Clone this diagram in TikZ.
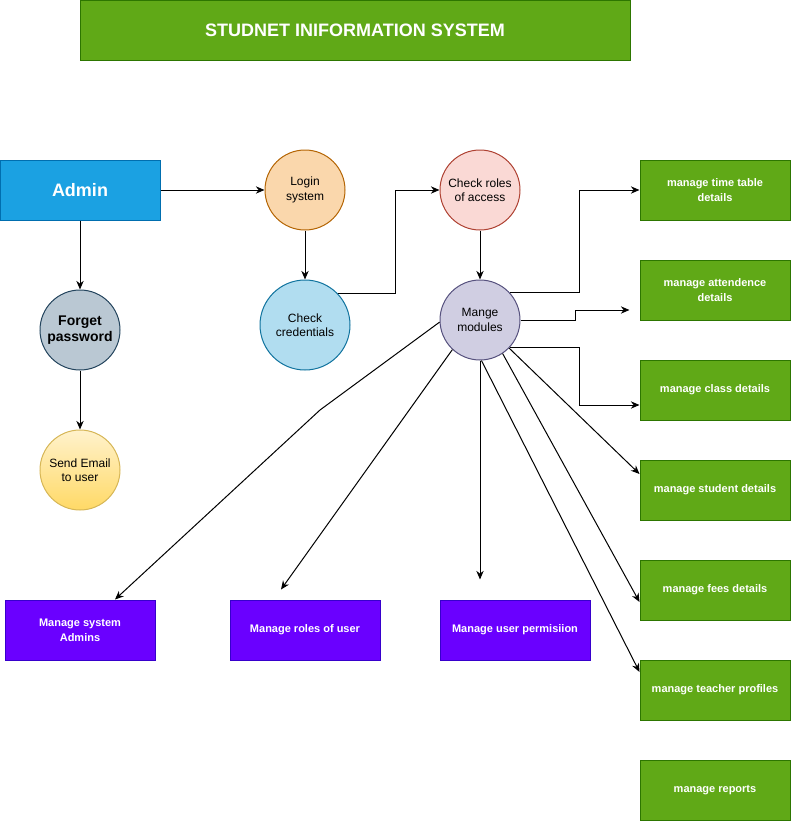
\documentclass[tikz,border=0pt]{standalone}
\usepackage{fontspec}
\setmainfont{Liberation Sans}
\usepackage{xcolor}
\usetikzlibrary{arrows.meta,positioning}

\definecolor{grnfill}{HTML}{60A917}
\definecolor{grnline}{HTML}{2D7600}
\definecolor{purfill}{HTML}{6A00FF}
\definecolor{purline}{HTML}{3700CC}
\definecolor{admfill}{HTML}{1BA1E2}
\definecolor{admline}{HTML}{006EAF}

\begin{document}
\begin{tikzpicture}[x=0.75pt, y=-0.75pt, >={Stealth[length=6.5pt,width=5.5pt]},
  conn/.style={->, line width=0.75pt},
  boxbase/.style={line width=0.75pt, minimum width=112.5pt, minimum height=45pt,
    inner sep=0pt, align=center, text=white},
  greenbox/.style={boxbase, draw=grnline, fill=grnfill,
    font=\fontsize{8.25}{11}\selectfont\bfseries},
  purplebox/.style={boxbase, draw=purline, fill=purfill,
    font=\fontsize{8.25}{11}\selectfont\bfseries},
  proc/.style={circle, line width=0.75pt, minimum size=60pt, inner sep=0pt,
    align=center, font=\fontsize{9}{10.8}\selectfont}]

\useasboundingbox (0,0) rectangle (791,821);

% Title
\node[greenbox, minimum width=412.5pt, font=\fontsize{13.5}{16}\selectfont\bfseries]
  (title) at (355,30) {STUDNET INIFORMATION SYSTEM};

% Admin side
\node[boxbase, minimum width=120pt, draw=admline, fill=admfill,
  font=\fontsize{13.5}{16}\selectfont\bfseries] (admin) at (80,190) {Admin};
\node[proc, draw={rgb,255:red,35;green,68;blue,93}, fill={rgb,255:red,186;green,200;blue,211},
  font=\fontsize{10.5}{12.5}\selectfont\bfseries] (forget) at (80,330) {Forget\\password};
\node[proc, draw={rgb,255:red,214;green,182;blue,86},
  top color={rgb,255:red,255;green,242;blue,204}, bottom color={rgb,255:red,255;green,217;blue,102}]
  (email) at (80,470) {Send Email\\to user};

% Login flow
\node[proc, draw={rgb,255:red,180;green,101;blue,4}, fill={rgb,255:red,250;green,215;blue,172}]
  (login) at (305,190) {Login\\system};
\node[proc, minimum size=67.5pt, draw={rgb,255:red,16;green,115;blue,158},
  fill={rgb,255:red,177;green,221;blue,240}] (cred) at (305,325) {Check\\credentials};
\node[proc, draw={rgb,255:red,174;green,65;blue,50}, fill={rgb,255:red,250;green,217;blue,213}]
  (access) at (480,190) {Check roles\\of access};
\node[proc, draw={rgb,255:red,86;green,81;blue,126}, fill={rgb,255:red,208;green,206;blue,226}]
  (modules) at (480,320) {Mange\\modules};

% Module boxes
\node[greenbox] (timetbl) at (715,190) {manage time table\\details};
\node[greenbox] (attend)  at (715,290) {manage attendence\\details};
\node[greenbox] (class)   at (715,390) {manage class details};
\node[greenbox] (student) at (715,490) {manage student details};
\node[greenbox] (fees)    at (715,590) {manage fees details};
\node[greenbox] (teacher) at (715,690) {manage teacher profiles};
\node[greenbox] (reports) at (715,790) {manage reports};

\node[purplebox] (sysadm) at (80,630)  {Manage system\\Admins};
\node[purplebox] (roles)  at (305,630) {Manage roles of user};
\node[purplebox] (perm)   at (515,630) {Manage user permisiion};

\coordinate (bend) at (320,410);

% Connectors
\draw[conn] (admin) -- (login);
\draw[conn] (admin) -- (forget);
\draw[conn] (forget) -- (email);
\draw[conn] (login) -- (cred);
\draw[conn] (cred.44) -- ++(58,0) |- (access.west);
\draw[conn] (access) -- (modules);

\draw[conn] (modules.43) -- ++(70,0) |- (timetbl.west);
\draw[conn] (modules.east) -- ++(55,0) |- ([shift={(-10,20)}]attend.west);
\draw[conn] (modules.-43) -- ++(70,0) |- ([shift={(0,15)}]class.west);
\draw[conn] (modules) -- ([shift={(0,-16)}]student.west);
\draw[conn] (modules.-56) -- ([shift={(0,12)}]fees.west);
\draw[conn] (modules.-88) -- ([shift={(0,-18)}]teacher.west);

\draw[conn] (modules) -- ([shift={(-35,-20)}]perm.north);
\draw[conn] (modules.-133) -- ([shift={(-24,-10)}]roles.north);
\draw[conn] (modules.183) -- (bend) -- ([shift={(35,0)}]sysadm.north);
\end{tikzpicture}
\end{document}
